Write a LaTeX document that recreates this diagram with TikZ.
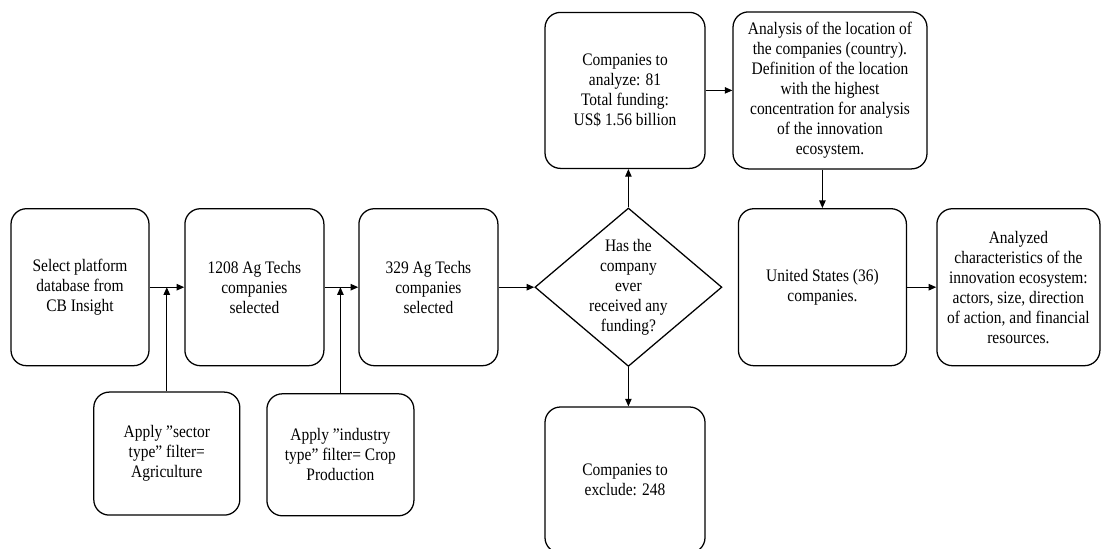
\documentclass[tikz,border=0pt]{standalone}
\usepackage{fontspec}
\setmainfont[FakeStretch=0.88]{Liberation Serif}
\usetikzlibrary{arrows.meta,shapes.geometric}
\tikzset{
  >={Triangle[length=1.9mm,width=1.6mm]},
  box/.style={draw=black,rounded corners=11pt,line width=0.9pt,
    minimum height=3.925cm,minimum width=#1,align=center,inner sep=2pt,
    font=\fontsize{12.5}{14.2}\selectfont},
  box/.default=3.475cm,
  query/.style={diamond,draw=black,line width=0.9pt,minimum width=4.675cm,
    minimum height=3.875cm,inner sep=-1mm,align=center,
    font=\fontsize{12.5}{14.2}\selectfont},
  flow/.style={->,line width=0.8pt},
}
\begin{document}
\begin{tikzpicture}
  \useasboundingbox (0,0) rectangle (27.575,13.7);
  % main row
  \node[box=3.45cm] (db) at (2.0,6.52) {Select platform\\database from\\CB Insight};
  \node[box] (all) at (6.36,6.52) {1208 Ag Techs\\companies\\selected};
  \node[box] (crop) at (10.71,6.52) {329 Ag Techs\\companies\\selected};
  \node[query] (fund) at (15.71,6.52) {Has the\\company\\ever\\received any\\funding?};
  \node[box=4.2cm] (us) at (20.56,6.52) {United States (36)\\companies.};
  \node[box=4.075cm] (eco) at (25.46,6.52) {Analyzed\\characteristics of the\\innovation ecosystem:\\actors, size, direction\\of action, and financial\\resources.};
  % filters
  \node[box=3.65cm,minimum height=3.075cm] (sect) at (4.17,2.36) {Apply ”sector\\type” filter=\\Agriculture};
  \node[box=3.675cm,minimum height=3.05cm] (ind) at (8.51,2.33) {Apply ”industry\\type” filter= Crop\\Production};
  % branches of the question
  \node[box=4.0cm,minimum height=3.9cm] (keep) at (15.625,11.44) {Companies to\\analyze: 81\\Total funding:\\US\$ 1.56 billion};
  \node[box=4.85cm] (loc) at (20.75,11.44) {Analysis of the location of\\the companies (country).\\Definition of the location\\with the highest\\concentration for analysis\\of the innovation\\ecosystem.};
  \node[box=4.0cm,minimum height=3.65cm] (drop) at (15.625,1.70) {Companies to\\exclude: 248};

  \draw[flow] (db) -- (all);
  \draw[flow] (all) -- (crop);
  \draw[flow] (crop) -- (fund);
  \draw[flow] (sect) -- (sect |- db);
  \draw[flow] (ind) -- (ind |- all);
  \draw[flow] (fund.north) -- (fund.north |- keep.south);
  \draw[flow] (fund.south) -- (fund.south |- drop.north);
  \draw[flow] (keep) -- (loc);
  \draw[flow] (us.north |- loc.south) -- (us.north);
  \draw[flow] (us) -- (eco);
\end{tikzpicture}
\end{document}
